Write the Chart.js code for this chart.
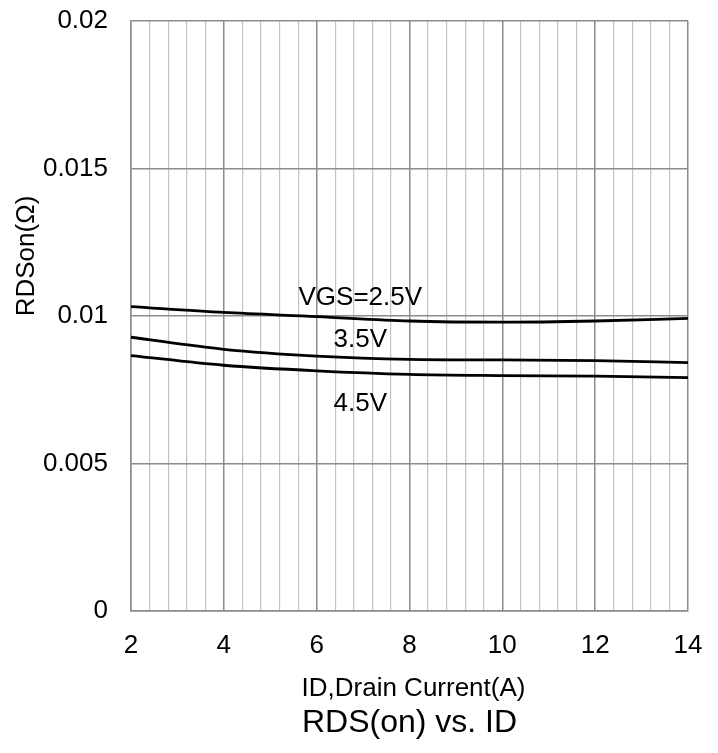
<!DOCTYPE html>
<html>
<head>
<meta charset="utf-8">
<script src="https://cdn.jsdelivr.net/npm/chart.js@4.4.1/dist/chart.umd.min.js"></script>
<style>
html,body{margin:0;padding:0;background:#fff;}
#wrap{width:718px;height:753px;position:relative;}
</style>
</head>
<body>
<div id="wrap"><canvas id="c" width="718" height="753"></canvas></div>
<script>
// ---- data ----
const currentA = [2, 4, 6, 8, 10, 12, 14];
const rdsVgs25 = [0.01032, 0.01012, 0.00998, 0.00983, 0.00979, 0.00983, 0.00992];
const rdsVgs35 = [0.00928, 0.00887, 0.00864, 0.00853, 0.00851, 0.00849, 0.00842];
const rdsVgs45 = [0.00866, 0.00833, 0.00814, 0.00802, 0.00798, 0.00796, 0.00791];
const curveLabels = ['VGS=2.5V', '3.5V', '4.5V'];
const xTickLabels = ['2', '4', '6', '8', '10', '12', '14'];
const yTickLabels = ['0', '0.005', '0.01', '0.015', '0.02'];
const chartTitle = 'RDS(on) vs. ID';
const xTitle = 'ID,Drain Current(A)';
const yTitle = 'RDSon(Ω)';

const FONT = '"Liberation Sans", Arial, sans-serif';
const toPts = arr => currentA.map((x, i) => ({x: x, y: arr[i]}));
const lineStyle = {borderColor: '#000', borderWidth: 2.8, pointRadius: 0, cubicInterpolationMode: 'monotone', fill: false};

// label anchors (data units) for the curve names
const labelAnchors = [
  {x: 6.94, y: 0.01063},
  {x: 6.94, y: 0.00919},
  {x: 6.94, y: 0.00702}
];

const isMajor = v => Math.abs(v / 2 - Math.round(v / 2)) < 1e-6;

const textPlugin = {
  id: 'texts',
  afterDraw(chart) {
    const ctx = chart.ctx, xs = chart.scales.x, ys = chart.scales.y, ca = chart.chartArea;
    ctx.save();
    ctx.fillStyle = '#000';
    ctx.textAlign = 'center';
    ctx.textBaseline = 'middle';
    ctx.font = '26px ' + FONT;
    curveLabels.forEach((t, i) => {
      ctx.fillText(t, xs.getPixelForValue(labelAnchors[i].x), ys.getPixelForValue(labelAnchors[i].y));
    });
    const cx = (ca.left + ca.right) / 2;
    ctx.font = '26px ' + FONT;
    ctx.fillText(xTitle, cx + 4, 689);
    ctx.font = '32px ' + FONT;
    ctx.fillText(chartTitle, cx, 723);
    ctx.font = '26px ' + FONT;
    ctx.translate(27, 256);
    ctx.rotate(-Math.PI / 2);
    ctx.fillText(yTitle, 0, 0);
    ctx.restore();
  }
};

new Chart(document.getElementById('c'), {
  type: 'line',
  data: {
    datasets: [
      Object.assign({label: curveLabels[0], data: toPts(rdsVgs25)}, lineStyle),
      Object.assign({label: curveLabels[1], data: toPts(rdsVgs35)}, lineStyle),
      Object.assign({label: curveLabels[2], data: toPts(rdsVgs45)}, lineStyle)
    ]
  },
  options: {
    responsive: false,
    animation: false,
    devicePixelRatio: 1,
    layout: {padding: {left: 0, right: 30, top: 21, bottom: 0}},
    plugins: {legend: {display: false}, tooltip: {enabled: false}, title: {display: false}},
    scales: {
      x: {
        type: 'linear', min: 2, max: 14,
        afterFit: s => { s.height = 142; s.paddingLeft = 0; s.paddingRight = 0; },
        border: {display: true, color: '#8c8c8c', width: 1.5},
        grid: {
          drawTicks: false,
          color: c => isMajor(c.tick.value) ? '#8c8c8c' : '#c4c4c4',
          lineWidth: c => isMajor(c.tick.value) ? 1.5 : 1.2
        },
        ticks: {
          stepSize: 0.4, autoSkip: false, maxRotation: 0, padding: 19,
          color: '#000', font: {family: FONT, size: 26},
          callback: v => {
            if (!isMajor(v)) return '';
            const i = currentA.indexOf(Math.round(v));
            return xTickLabels[i] !== undefined ? xTickLabels[i] : String(Math.round(v));
          }
        }
      },
      y: {
        type: 'linear', min: 0, max: 0.02,
        afterFit: s => { s.width = 131; s.paddingTop = 0; s.paddingBottom = 0; },
        border: {display: true, color: '#8c8c8c', width: 1.5},
        grid: {drawTicks: false, color: '#8c8c8c', lineWidth: 1.5},
        ticks: {
          stepSize: 0.005, padding: 23,
          color: '#000', font: {family: FONT, size: 26},
          callback: (v, i) => yTickLabels[Math.round(v / 0.005)]
        }
      }
    }
  },
  plugins: [textPlugin]
});
</script>
</body>
</html>
